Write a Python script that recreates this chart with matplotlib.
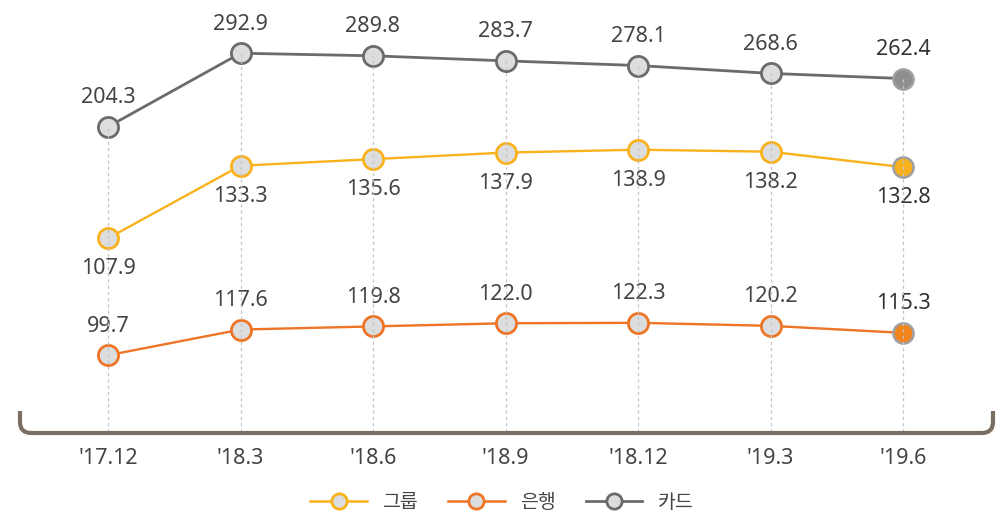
import numpy as np
import matplotlib
matplotlib.use('Agg')
import matplotlib.pyplot as plt
from matplotlib.path import Path
from matplotlib.patches import PathPatch
from matplotlib.lines import Line2D
import matplotlib.transforms as mtransforms

# ---------------- data ----------------
periods = ["'17.12", "'18.3", "'18.6", "'18.9", "'18.12", "'19.3", "'19.6"]
group = [107.9, 133.3, 135.6, 137.9, 138.9, 138.2, 132.8]
bank = [99.7, 117.6, 119.8, 122.0, 122.3, 120.2, 115.3]
card = [204.3, 292.9, 289.8, 283.7, 278.1, 268.6, 262.4]
series_names = ['그룹', '은행', '카드']

# ---------------- style ----------------
W, H = 1002, 514
plt.rcParams['font.family'] = ['Noto Sans', 'Noto Sans CJK KR', 'DejaVu Sans']
fig = plt.figure(figsize=(W / 100, H / 100), dpi=100)

c_group = '#F9B11C'
c_bank = '#EE7426'
c_card = '#6B6B6D'
face = '#DCDDDF'
last_edge = '#A0A0A2'
txt = '#444444'

x = np.arange(len(periods))
xlim = (-108 / 132.5, 6 + (W - 903) / 132.5)


def make_ax(ylim, name):
    ax = fig.add_axes([0, 0, 1, 1], label=name)
    ax.set_xlim(*xlim)
    ax.set_ylim(*ylim)
    ax.axis('off')
    ax.patch.set_alpha(0)
    return ax


specs = [
    # values, ylim, color, lw, last face, label offset (pt), name
    (card, (-262.0, 357.0), c_card, 2.0, '#8E8E90', 21, '카드'),
    (group, (11.4, 191.3), c_group, 1.7, '#F7B01E', -22, '그룹'),
    (bank, (-11.0, 347.4), c_bank, 1.7, '#F2841C', 21, '은행'),
]

axes = {}
for vals, ylim, col, lw, lastface, off, name in specs:
    ax = make_ax(ylim, name)
    axes[name] = ax
    ax.plot(x, vals, color=col, lw=lw, zorder=2, solid_capstyle='round')
    ax.plot(x[:-1], vals[:-1], ls='none', marker='o', ms=14.5, mfc=face,
            mec=col, mew=2.0, zorder=3)
    ax.plot(x[-1:], vals[-1:], ls='none', marker='o', ms=14.5, mfc=lastface,
            mec=last_edge, mew=1.8, zorder=4)
    for i, v in enumerate(vals):
        last = i == len(vals) - 1
        ax.annotate(f'{v:.1f}', (x[i], v), xytext=(0, off),
                    textcoords='offset points', ha='center', va='center',
                    fontsize=15.5, color='#333333' if last else txt,
                    fontweight='semibold' if last else 'normal', zorder=5)

# dotted guide lines from card point down to the bracket (on top of markers)
cax = make_ax(axes['카드'].get_ylim(), 'guides')
y_lo, y_hi = cax.get_ylim()
bottom_val = y_lo + (1 - 432 / H) * (y_hi - y_lo)
cax.vlines(x, bottom_val, card, colors='#C4C4C4', lw=0.9,
           linestyles=(0, (2.5, 2.5)), zorder=6)

# x category labels
trans = mtransforms.blended_transform_factory(cax.transData, cax.transAxes)
for xi, lab in zip(x, periods):
    cax.text(xi, 1 - 459 / H, lab, transform=trans, ha='center', va='center',
             fontsize=15.5, color=txt)

# bracket
def fp(px, py):
    return (px / W, 1 - py / H)

r = 11
verts = [fp(20, 411), fp(20, 433 - r), fp(20, 433), fp(20 + r, 433),
         fp(993 - r, 433), fp(993, 433), fp(993, 433 - r), fp(993, 411)]
codes = [Path.MOVETO, Path.LINETO, Path.CURVE3, Path.CURVE3,
         Path.LINETO, Path.CURVE3, Path.CURVE3, Path.LINETO]
fig.patches.append(PathPatch(Path(verts, codes), transform=fig.transFigure,
                             fill=False, edgecolor='#7A6E63', lw=3.0,
                             capstyle='butt', joinstyle='round'))

# legend
handles = [
    Line2D([], [], color=c_group, lw=1.8, marker='o', ms=11, mfc=face, mec=c_group, mew=2.0),
    Line2D([], [], color=c_bank, lw=1.8, marker='o', ms=11, mfc=face, mec=c_bank, mew=2.0),
    Line2D([], [], color=c_card, lw=2.0, marker='o', ms=11, mfc=face, mec=c_card, mew=2.0),
]
fig.legend(handles, series_names, loc='center', bbox_to_anchor=(502 / W, 1 - 503 / H),
           ncol=3, frameon=False, fontsize=14, handlelength=2.9,
           handletextpad=0.8, columnspacing=1.55, labelcolor=txt)

fig.savefig('out.png', dpi=100)
